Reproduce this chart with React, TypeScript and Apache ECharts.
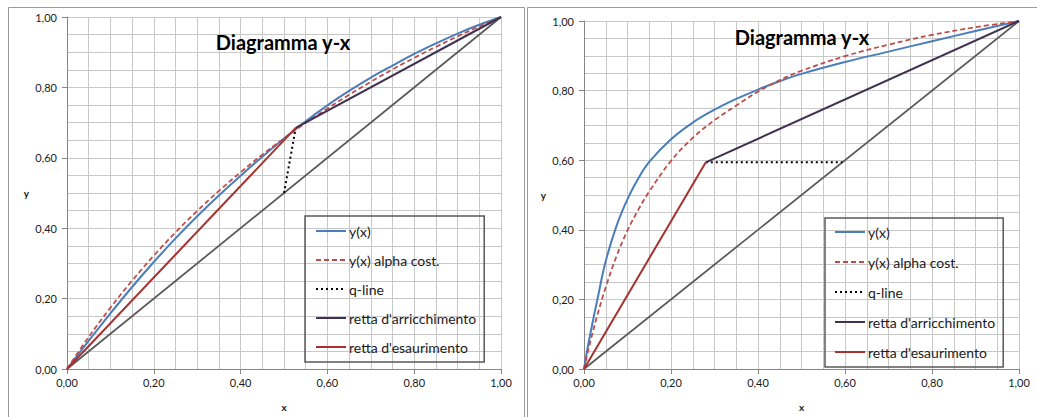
import React, { useEffect, useRef } from "react";
import * as echarts from "echarts";

// ---------- data ----------
const TITLE = "Diagramma y-x";
const LEGEND_NAMES = [
  "y(x)",
  "y(x) alpha cost.",
  "q-line",
  "retta d'arricchimento",
  "retta d'esaurimento",
];

// left chart
const leftEqX = [0, 0.05, 0.1, 0.15, 0.2, 0.25, 0.3, 0.35, 0.4, 0.45, 0.5, 0.55, 0.6, 0.65, 0.7, 0.75, 0.8, 0.85, 0.9, 0.95, 1];
const leftEqY = [0, 0.08, 0.158, 0.233, 0.304, 0.371, 0.434, 0.493, 0.549, 0.603, 0.655, 0.704, 0.749, 0.79, 0.828, 0.862, 0.895, 0.925, 0.953, 0.978, 1];
const leftAlphaY = [0, 0.091, 0.174, 0.251, 0.322, 0.388, 0.449, 0.506, 0.559, 0.609, 0.655, 0.699, 0.74, 0.779, 0.816, 0.851, 0.884, 0.915, 0.945, 0.973, 1];
const leftQLine = [[0.5, 0.5], [0.527, 0.685]];
const leftRectifying = [[0.527, 0.685], [1, 1]];
const leftStripping = [[0, 0], [0.527, 0.685]];

// right chart
const rightEqX = [0, 0.01, 0.02, 0.03, 0.05, 0.075, 0.1, 0.125, 0.15, 0.2, 0.25, 0.3, 0.35, 0.4, 0.45, 0.5, 0.6, 0.7, 0.8, 0.9, 1];
const rightEqY = [0, 0.072, 0.135, 0.195, 0.31, 0.412, 0.488, 0.548, 0.595, 0.66, 0.708, 0.745, 0.776, 0.803, 0.827, 0.848, 0.882, 0.912, 0.942, 0.971, 1];
const rightAlphaY = [0, 0.055, 0.105, 0.152, 0.235, 0.325, 0.398, 0.458, 0.51, 0.598, 0.664, 0.715, 0.757, 0.797, 0.83, 0.857, 0.899, 0.932, 0.96, 0.982, 1];
const rightQLine = [[0.28, 0.594], [0.594, 0.594]];
const rightRectifying = [[0.28, 0.594], [1, 1]];
const rightStripping = [[0, 0], [0.28, 0.594]];

const diagonal = [[0, 0], [1, 1]];

// ---------- styles ----------
const FONT = "Lato, 'Liberation Sans', sans-serif";
const C_EQ = "#4a7ebb";
const C_ALPHA = "#be4b48";
const C_Q = "#000000";
const C_RECT = "#3f3151";
const C_STRIP = "#a5322f";
const C_DIAG = "#595959";
const GRID_C = "#c8c8c8";

const zip = (xs: number[], ys: number[]) => xs.map((x, i) => [x, ys[i]]);
const fmt = (v: number) => v.toFixed(2).replace(".", ",");

function makeAxis(kind: "x" | "y", gridIndex: number) {
  return {
    type: "value",
    gridIndex,
    min: 0,
    max: 1,
    interval: 0.2,
    name: kind,
    nameLocation: "middle",
    nameRotate: 0,
    nameGap: kind === "x" ? 33 : 38,
    nameTextStyle: { fontFamily: FONT, fontWeight: "bold", fontSize: 10, color: "#1a1a1a" },
    axisLine: { show: true, onZero: false, lineStyle: { color: "#868686", width: 1 } },
    axisTick: { show: true, length: 5, inside: false, lineStyle: { color: "#868686" } },
    axisLabel: {
      formatter: fmt,
      fontFamily: FONT,
      fontSize: 11,
      color: "#1a1a1a",
      margin: kind === "x" ? 8 : 10,
    },
    splitLine: { show: true, lineStyle: { color: GRID_C, width: 1 } },
    minorTick: { show: false, splitNumber: 4 },
    minorSplitLine: { show: true, lineStyle: { color: GRID_C, width: 1 } },
  };
}

function makeSeries(
  idx: number,
  eq: number[][],
  alpha: number[][],
  q: number[][],
  rect: number[][],
  strip: number[][]
) {
  const base = { type: "line", xAxisIndex: idx, yAxisIndex: idx, symbol: "none", showSymbol: false, smooth: false };
  return [
    { ...base, name: "diag", data: diagonal, lineStyle: { color: C_DIAG, width: 1.75 }, itemStyle: { color: C_DIAG } },
    { ...base, name: LEGEND_NAMES[0], data: eq, smooth: 0.4, lineStyle: { color: C_EQ, width: 2 }, itemStyle: { color: C_EQ } },
    { ...base, name: LEGEND_NAMES[1], data: alpha, smooth: 0.4, lineStyle: { color: C_ALPHA, width: 1.75, type: [5, 3] }, itemStyle: { color: C_ALPHA } },
    { ...base, name: LEGEND_NAMES[2], data: q, lineStyle: { color: C_Q, width: 2, type: [2, 3] }, itemStyle: { color: C_Q } },
    { ...base, name: LEGEND_NAMES[3], data: rect, lineStyle: { color: C_RECT, width: 2 }, itemStyle: { color: C_RECT } },
    { ...base, name: LEGEND_NAMES[4], data: strip, lineStyle: { color: C_STRIP, width: 2 }, itemStyle: { color: C_STRIP } },
  ];
}

function makeLegend(left: number, top: number, gap: number, padding: number[]) {
  return {
    data: LEGEND_NAMES,
    orient: "vertical",
    left,
    top,
    itemWidth: 30,
    itemHeight: 14,
    itemGap: gap,
    padding,
    borderColor: "#595959",
    borderWidth: 1.5,
    borderRadius: 0,
    backgroundColor: "transparent",
    selectedMode: false,
    itemStyle: { opacity: 0 },
    textStyle: { fontFamily: FONT, fontSize: 14, color: "#1a1a1a", padding: [0, 0, 0, -2] },
  };
}

export default function App() {
  const ref = useRef<HTMLDivElement>(null);

  useEffect(() => {
    if (!ref.current) return;
    const chart = echarts.init(ref.current, undefined, { renderer: "svg" });
    chart.setOption({
      animation: false,
      backgroundColor: "#ffffff",
      title: [
        {
          text: TITLE,
          left: 278,
          top: 27,
          textAlign: "center",
          textStyle: { fontFamily: FONT, fontWeight: "bold", fontSize: 20, color: "#000" },
        },
        {
          text: TITLE,
          left: 797,
          top: 22,
          textAlign: "center",
          textStyle: { fontFamily: FONT, fontWeight: "bold", fontSize: 20, color: "#000" },
        },
      ],
      grid: [
        { left: 67, top: 17, width: 434, height: 361 },
        { left: 584, top: 21, width: 435, height: 361 },
      ],
      xAxis: [makeAxis("x", 0), makeAxis("x", 1)],
      yAxis: [makeAxis("y", 0), makeAxis("y", 1)],
      legend: [
        makeLegend(305, 216, 15, [8, 8, 8, 10]),
        makeLegend(825, 218, 16, [7, 8, 8, 9]),
      ],
      graphic: [
        {
          type: "rect",
          shape: { x: 8.5, y: 7.5, width: 516, height: 430 },
          style: { fill: "none", stroke: "#9a9a9a", lineWidth: 1 },
          silent: true,
        },
        {
          type: "rect",
          shape: { x: 527.5, y: 7.5, width: 530, height: 430 },
          style: { fill: "none", stroke: "#9a9a9a", lineWidth: 1 },
          silent: true,
        },
      ],
      series: [
        ...makeSeries(0, zip(leftEqX, leftEqY), zip(leftEqX, leftAlphaY), leftQLine, leftRectifying, leftStripping),
        ...makeSeries(1, zip(rightEqX, rightEqY), zip(rightEqX, rightAlphaY), rightQLine, rightRectifying, rightStripping),
      ],
    });
    return () => chart.dispose();
  }, []);

  return (
    <div
      ref={ref}
      style={{ position: "absolute", left: 0, top: 0, width: 1037, height: 417, background: "#fff" }}
    />
  );
}
